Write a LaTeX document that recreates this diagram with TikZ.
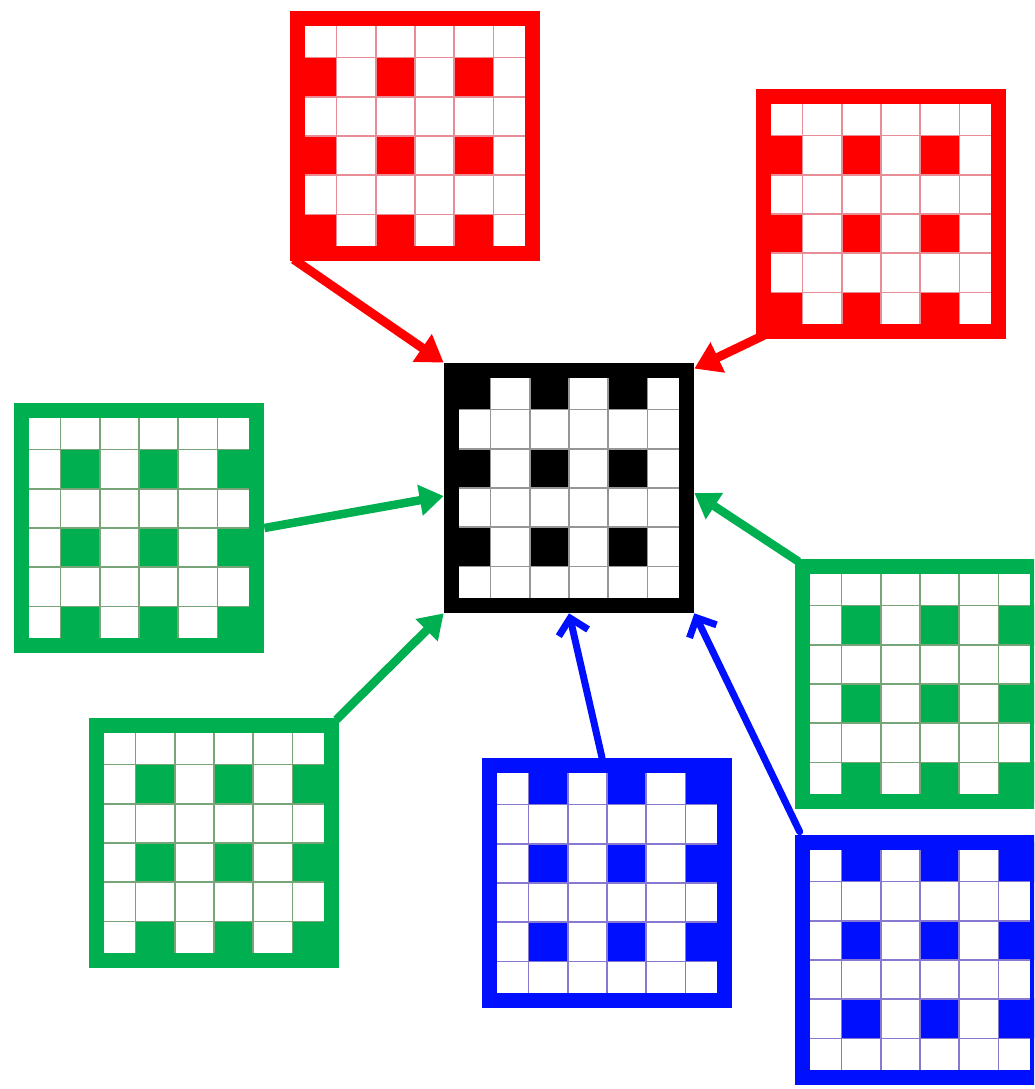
\documentclass[tikz,border=0pt]{standalone}
\usetikzlibrary{arrows.meta}
\definecolor{cred}{RGB}{255,0,0}
\definecolor{cgreen}{RGB}{0,176,80}
\definecolor{cblue}{RGB}{0,16,255}
\definecolor{lred}{RGB}{232,140,150}
\definecolor{lgreen}{RGB}{120,165,120}
\definecolor{lblue}{RGB}{135,120,210}
\definecolor{lblack}{RGB}{150,150,150}
\tikzset{
  gridframe/.style={rectangle, minimum size=235.2pt, inner sep=0pt, line width=15.5pt},
  redarrow/.style={draw=cred, line width=9pt, -{Triangle[length=26pt,width=32pt]}},
  greenarrow/.style={draw=cgreen, line width=8.5pt, -{Triangle[length=24pt,width=30pt]}},
  bluearrow/.style={draw=cblue, line width=7pt, line cap=round, -{Straight Barb[length=15pt,width=30pt]}}
}
% #1 name, #2 cx, #3 cy, #4 colour, #5 row offset, #6 column offset, #7 grid-line colour
\newcommand\gridbox[7]{%
  \begin{scope}[shift={(#2,#3)}]
    \fill[white] (-117.6,-117.6) rectangle (117.6,117.6);
    \foreach \ii in {0,1,2}{
      \foreach \jj in {0,1,2}{
        \fill[#4] ({-117.6+(#6+2*\jj)*39.2},{-117.6+(#5+2*\ii)*39.2}) rectangle ++(39.2,39.2);
      }
    }
    \foreach \kk in {1,...,5}{
      \draw[#7, line width=1.6pt] ({-117.6+\kk*39.2},-117.6) -- ++(0,235.2);
      \draw[#7, line width=1.6pt] (-117.6,{-117.6+\kk*39.2}) -- ++(235.2,0);
    }
  \end{scope}
  \node[gridframe, draw=#4] (#1) at (#2,#3) {};
}
\begin{document}
\begin{tikzpicture}[x=1pt,y=-1pt]
  \useasboundingbox (0,0) rectangle (1034,1089);
  \clip (0,0) rectangle (1034,1089);
  \fill[white] (0,0) rectangle (1034,1089);
  % centre
  \gridbox{c}{569}{488}{black}{0}{0}{lblack}
  % red
  \gridbox{rt}{415}{136}{cred}{1}{0}{lred}
  \gridbox{rr}{881}{214}{cred}{1}{0}{lred}
  % green
  \gridbox{gl}{139}{528}{cgreen}{1}{1}{lgreen}
  \gridbox{gb}{214}{843}{cgreen}{1}{1}{lgreen}
  \gridbox{gr}{920}{684}{cgreen}{1}{1}{lgreen}
  % blue
  \gridbox{bc}{607}{883}{cblue}{0}{1}{lblue}
  \gridbox{br}{920}{960}{cblue}{0}{1}{lblue}
  % arrows
  \draw[redarrow] ([shift={(4pt,2pt)}]rt.south west) -- (c.north west);
  \draw[redarrow] ([shift={(8pt,4pt)}]rr.south west) -- ([yshift=-6pt]c.north east);
  \draw[greenarrow] (gl.east) -- ([yshift=-8pt]c.west);
  \draw[greenarrow] ([shift={(-3pt,-2pt)}]gb.north east) -- (c.south west);
  \draw[greenarrow] ([shift={(4pt,-3pt)}]gr.north west) -- ([yshift=-5pt]c.east);
  \draw[bluearrow] ([xshift=-5pt]bc.north) -- (c.south);
  \draw[bluearrow] ([shift={(5pt,3pt)}]br.north west) -- (c.south east);
\end{tikzpicture}
\end{document}
